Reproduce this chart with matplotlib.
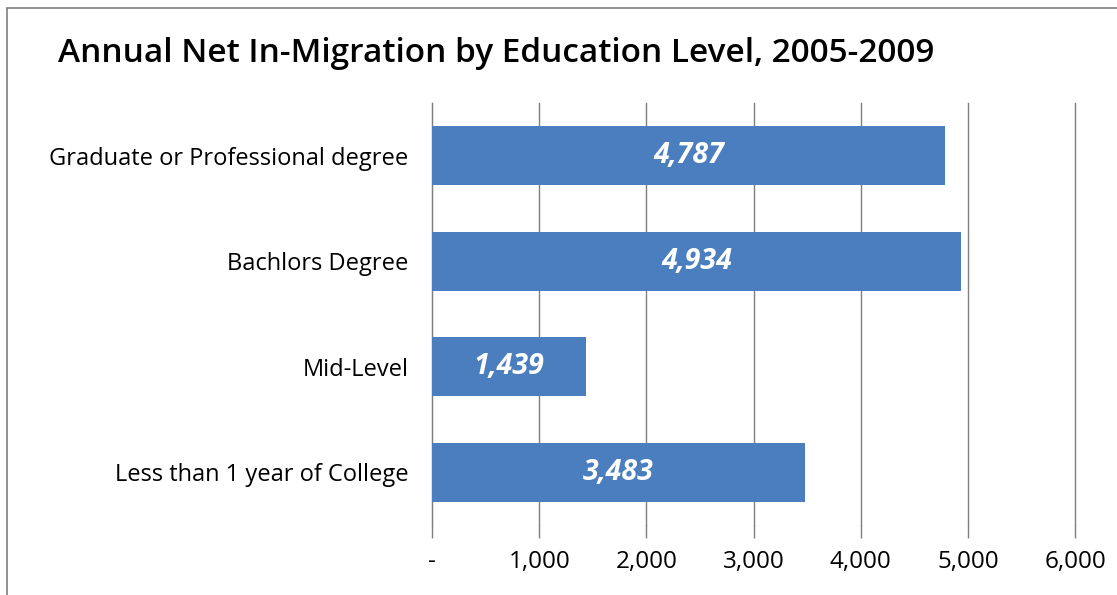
import matplotlib.pyplot as plt
from matplotlib.patches import Rectangle

categories = ['Graduate or Professional degree', 'Bachlors Degree', 'Mid-Level',
              'Less than 1 year of College']
values = [4787, 4934, 1439, 3483]
xticks = [0, 1000, 2000, 3000, 4000, 5000, 6000]
xticklabels = ['-', '1,000', '2,000', '3,000', '4,000', '5,000', '6,000']

plt.rcParams['font.family'] = ['Open Sans', 'DejaVu Sans']

fig = plt.figure(figsize=(11.17, 5.95), dpi=100)
ax = fig.add_axes([0.3868, 0.1176, 0.9624 - 0.3868, 0.8269 - 0.1176])

# chart border (left and top edges visible)
fig.patches.append(Rectangle((7 / 1117, -0.1), 1.2, 1 - 8 / 595 + 0.1,
                             transform=fig.transFigure, fill=False,
                             edgecolor='#7f7f7f', linewidth=1.2))

ypos = list(range(len(categories)))
bars = ax.barh(ypos, values, height=0.56, color='#4A7EBF', zorder=3)
for b, v in zip(bars, values):
    ax.text(v / 2, b.get_y() + b.get_height() / 2, f'{v:,}', ha='center', va='center',
            color='white', fontsize=20.5, fontweight='bold', style='italic', zorder=4)

ax.set_xlim(0, 6000)
ax.set_ylim(len(categories) - 0.5, -0.5)
ax.set_xticks(xticks)
ax.set_xticklabels(xticklabels, fontsize=17.5)
ax.set_yticks(ypos)
ax.set_yticklabels(categories, fontsize=17)
ax.tick_params(axis='y', length=0, pad=17)
ax.tick_params(axis='x', length=9, width=1, color='#7f7f7f', pad=9)
ax.grid(axis='x', color='#7f7f7f', linewidth=1, zorder=0)
for gl in ax.get_xgridlines():
    gl.set_clip_on(False)
for s in ['top', 'right', 'bottom']:
    ax.spines[s].set_visible(False)
ax.spines['left'].set_color('#7f7f7f')

fig.text(58 / 1117, 1 - 53 / 595, 'Annual Net In-Migration by Education Level, 2005-2009',
         fontsize=24, fontweight='semibold', va='center', ha='left')

fig.savefig('out.png', dpi=100)
